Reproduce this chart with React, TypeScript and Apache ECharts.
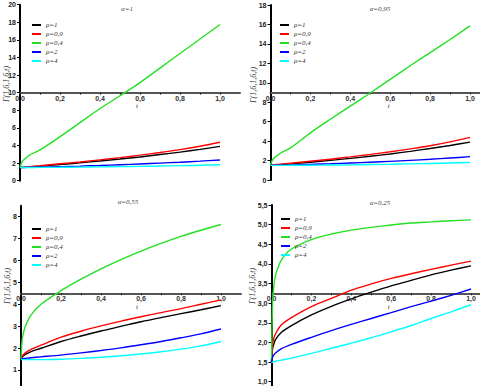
import React, { useEffect, useRef } from "react";
import * as echarts from "echarts";

// shared abscissa values t
const T = [0, 0.005, 0.01, 0.02, 0.05, 0.1, 0.2, 0.3, 0.4, 0.5, 0.6, 0.7, 0.8, 0.9, 1.0];

const RHO_NAMES = ["ρ=1", "ρ=0,9", "ρ=0,4", "ρ=2", "ρ=4"];
const COLORS = ["#000000", "#ff0000", "#22e022", "#0000ff", "#00ffff"];
const ALPHA_TITLES = ["α=1", "α=0,95", "α=0,55", "α=0,25"];
const Y_NAME = "Γ(1,6,1,6,t)";

// α = 1
const A1_RHO1 = [1.5, 1.5, 1.51, 1.52, 1.57, 1.65, 1.84, 2.03, 2.24, 2.46, 2.7, 2.97, 3.25, 3.56, 3.9];
const A1_RHO09 = [1.5, 1.5, 1.51, 1.53, 1.6, 1.7, 1.92, 2.13, 2.37, 2.62, 2.9, 3.2, 3.53, 3.92, 4.37];
const A1_RHO04 = [1.5, 1.9, 2.1, 2.4, 2.95, 3.5, 5.0, 6.6, 8.2, 9.65, 11.15, 12.8, 14.45, 16.1, 17.75];
const A1_RHO2 = [1.5, 1.5, 1.5, 1.5, 1.52, 1.54, 1.6, 1.66, 1.73, 1.81, 1.9, 2.0, 2.1, 2.22, 2.36];
const A1_RHO4 = [1.5, 1.5, 1.5, 1.5, 1.5, 1.51, 1.52, 1.54, 1.57, 1.6, 1.63, 1.67, 1.71, 1.76, 1.82];

// α = 0,95
const A2_RHO1 = [1.5, 1.51, 1.52, 1.54, 1.58, 1.65, 1.83, 2.02, 2.22, 2.44, 2.68, 2.95, 3.24, 3.55, 3.9];
const A2_RHO09 = [1.5, 1.52, 1.54, 1.57, 1.63, 1.72, 1.93, 2.14, 2.38, 2.63, 2.9, 3.2, 3.52, 3.92, 4.38];
const A2_RHO04 = [1.5, 1.85, 2.05, 2.3, 2.75, 3.3, 4.85, 6.25, 7.6, 8.95, 10.35, 11.75, 13.1, 14.45, 15.85];
const A2_RHO2 = [1.5, 1.5, 1.5, 1.51, 1.52, 1.55, 1.61, 1.67, 1.75, 1.83, 1.92, 2.02, 2.13, 2.26, 2.4];
const A2_RHO4 = [1.5, 1.5, 1.5, 1.5, 1.5, 1.51, 1.52, 1.54, 1.56, 1.59, 1.62, 1.66, 1.7, 1.75, 1.8];

// α = 0,55
const A3_RHO1 = [1.5, 1.58, 1.63, 1.7, 1.84, 1.99, 2.3, 2.55, 2.78, 2.99, 3.2, 3.39, 3.57, 3.75, 3.94];
const A3_RHO09 = [1.5, 1.62, 1.68, 1.77, 1.94, 2.13, 2.5, 2.77, 3.01, 3.23, 3.43, 3.62, 3.8, 4.0, 4.2];
const A3_RHO04 = [1.5, 2.3, 2.6, 2.95, 3.5, 4.0, 4.62, 5.15, 5.62, 6.04, 6.43, 6.78, 7.1, 7.38, 7.64];
const A3_RHO2 = [1.5, 1.51, 1.52, 1.53, 1.56, 1.6, 1.68, 1.78, 1.89, 2.01, 2.15, 2.3, 2.47, 2.65, 2.87];
const A3_RHO4 = [1.48, 1.48, 1.47, 1.47, 1.47, 1.47, 1.49, 1.53, 1.58, 1.65, 1.73, 1.83, 1.95, 2.1, 2.3];

// α = 0,25
const A4_RHO1 = [1.5, 1.82, 1.93, 2.07, 2.26, 2.43, 2.7, 2.92, 3.11, 3.28, 3.44, 3.58, 3.72, 3.84, 3.95];
const A4_RHO09 = [1.5, 1.95, 2.07, 2.22, 2.45, 2.63, 2.91, 3.12, 3.33, 3.49, 3.63, 3.75, 3.86, 3.97, 4.07];
const A4_RHO04 = [1.5, 3.0, 3.35, 3.7, 4.1, 4.38, 4.62, 4.76, 4.86, 4.93, 4.99, 5.04, 5.07, 5.1, 5.12];
const A4_RHO2 = [1.5, 1.62, 1.67, 1.73, 1.84, 1.95, 2.13, 2.3, 2.46, 2.61, 2.76, 2.91, 3.05, 3.2, 3.36];
const A4_RHO4 = [1.48, 1.5, 1.51, 1.52, 1.55, 1.6, 1.72, 1.85, 1.98, 2.12, 2.27, 2.43, 2.61, 2.78, 2.96];

// tick values
const X_LABELS = [0, 0.2, 0.4, 0.6, 0.8, 1.0];
const X_TICKS = [0, 0.1, 0.2, 0.3, 0.4, 0.5, 0.6, 0.7, 0.8, 0.9, 1.0];
const Y1_TICKS = [0, 2, 4, 6, 8, 10, 12, 14, 16, 18, 20];
const Y2_TICKS = [0, 2, 4, 6, 8, 10, 12, 14, 16, 18];
const Y3_TICKS = [1, 2, 3, 4, 5, 6, 7, 8];
const Y4_TICKS = [1, 1.5, 2, 2.5, 3, 3.5, 4, 4.5, 5, 5.5];

const PANEL_DATA = [
  [A1_RHO1, A1_RHO09, A1_RHO04, A1_RHO2, A1_RHO4],
  [A2_RHO1, A2_RHO09, A2_RHO04, A2_RHO2, A2_RHO4],
  [A3_RHO1, A3_RHO09, A3_RHO04, A3_RHO2, A3_RHO4],
  [A4_RHO1, A4_RHO09, A4_RHO04, A4_RHO2, A4_RHO4],
];

// layout (pixels) and axis ranges per panel
const PANELS = [
  { left: 20, top: 4.7, width: 220, height: 176, xMax: 1.1, yMin: 0, yMax: 20, cross: 10, yTicks: Y1_TICKS, dec: 0, tShift: 14, legend: [32, 20.5], title: [127, 9], yName: [6, 84] },
  { left: 270.5, top: 5, width: 209.5, height: 175, xMax: 1.05, yMin: 0, yMax: 18, cross: 9, yTicks: Y2_TICKS, dec: 0, tShift: 27, legend: [280, 20.5], title: [380, 9], yName: [253, 85] },
  { left: 21, top: 205.7, width: 220, height: 179.6, xMax: 1.1, yMin: 0.3, yMax: 8.5, cross: 4.5, yTicks: Y3_TICKS, dec: 0, tShift: 12, legend: [32, 224.5], title: [128, 202], yName: [7, 286] },
  { left: 271.5, top: 205, width: 209.5, height: 180.6, xMax: 1.05, yMin: 0.9, yMax: 5.5, cross: 3.25, yTicks: Y4_TICKS, dec: 1, tShift: 25, legend: [281, 214.5], title: [380, 203], yName: [252, 286] },
];

const fmt = (v: number, d: number) => v.toFixed(d).replace(".", ",");

export default function App() {
  const ref = useRef<HTMLDivElement>(null);
  useEffect(() => {
    document.body.style.margin = "0";
    if (!ref.current) return;
    const chart = echarts.init(ref.current, null, { renderer: "svg" });

    const grid: any[] = [];
    const xAxis: any[] = [];
    const yAxis: any[] = [];
    const series: any[] = [];
    const legend: any[] = [];
    const graphic: any[] = [];

    PANELS.forEach((p, i) => {
      grid.push({ left: p.left, top: p.top, width: p.width, height: p.height, containLabel: false, outerBoundsMode: "none" });
      const crossOffset = -((p.cross - p.yMin) / (p.yMax - p.yMin)) * p.height;
      xAxis.push({
        type: "value",
        gridIndex: i,
        min: 0,
        max: p.xMax,
        position: "bottom",
        offset: crossOffset,
        axisLine: { show: true, onZero: false, lineStyle: { color: "#555", width: 2 } },
        axisTick: { show: true, customValues: X_TICKS, length: 2, lineStyle: { color: "#222", width: 1 } },
        axisLabel: {
          show: true,
          customValues: X_LABELS,
          fontSize: 7,
          fontWeight: "bold",
          fontFamily: "Liberation Sans",
          color: "#333",
          margin: 2,
          formatter: (v: number) => fmt(v, 1),
        },
        splitLine: { show: false },
        name: "t",
        nameLocation: "middle",
        nameGap: 9,
        nameTextStyle: { fontStyle: "italic", fontSize: 7, color: "#333", fontFamily: "Liberation Serif", padding: [0, 0, 0, p.tShift] },
      });
      yAxis.push({
        type: "value",
        gridIndex: i,
        min: p.yMin,
        max: p.yMax,
        axisLine: { show: true, onZero: false, lineStyle: { color: "#000", width: 2 } },
        axisTick: { show: true, customValues: p.yTicks, length: 3, lineStyle: { color: "#000", width: 1 } },
        axisLabel: {
          show: true,
          customValues: p.yTicks,
          fontSize: 7,
          fontWeight: "bold",
          fontFamily: "Liberation Sans",
          color: "#222",
          margin: 4,
          formatter: (v: number) => fmt(v, p.dec),
        },
        splitLine: { show: false },
      });
      PANEL_DATA[i].forEach((arr, k) => {
        series.push({
          type: "line",
          name: RHO_NAMES[k],
          xAxisIndex: i,
          yAxisIndex: i,
          data: T.map((t, j) => [t, arr[j]]),
          showSymbol: false,
          symbol: "none",
          smooth: 0.3,
          lineStyle: { width: 1.4, color: COLORS[k] },
          itemStyle: { color: COLORS[k] },
          z: 3,
        });
      });
      legend.push({
        orient: "vertical",
        left: p.legend[0],
        top: p.legend[1],
        padding: 0,
        itemGap: 0,
        itemWidth: 9,
        itemHeight: 2,
        icon: "rect",
        data: RHO_NAMES,
        textStyle: { fontSize: 7, lineHeight: 9, fontStyle: "italic", color: "#333", fontFamily: "Liberation Serif" },
      });
      graphic.push({
        type: "text",
        x: p.title[0],
        y: p.title[1],
        style: { text: ALPHA_TITLES[i], fontSize: 7, fontStyle: "italic", fill: "#444", fontFamily: "Liberation Serif", textAlign: "center", textVerticalAlign: "middle" },
      });
      graphic.push({
        type: "text",
        x: p.yName[0],
        y: p.yName[1],
        rotation: Math.PI / 2,
        style: { text: Y_NAME, fontSize: 8, fontStyle: "italic", fill: "#333", fontFamily: "Liberation Serif", textAlign: "center", textVerticalAlign: "middle" },
      });
    });

    chart.setOption({
      animation: false,
      backgroundColor: "#ffffff",
      grid,
      xAxis,
      yAxis,
      series,
      legend,
      graphic,
    });
    return () => chart.dispose();
  }, []);
  return <div ref={ref} style={{ width: 480, height: 386 }} />;
}
